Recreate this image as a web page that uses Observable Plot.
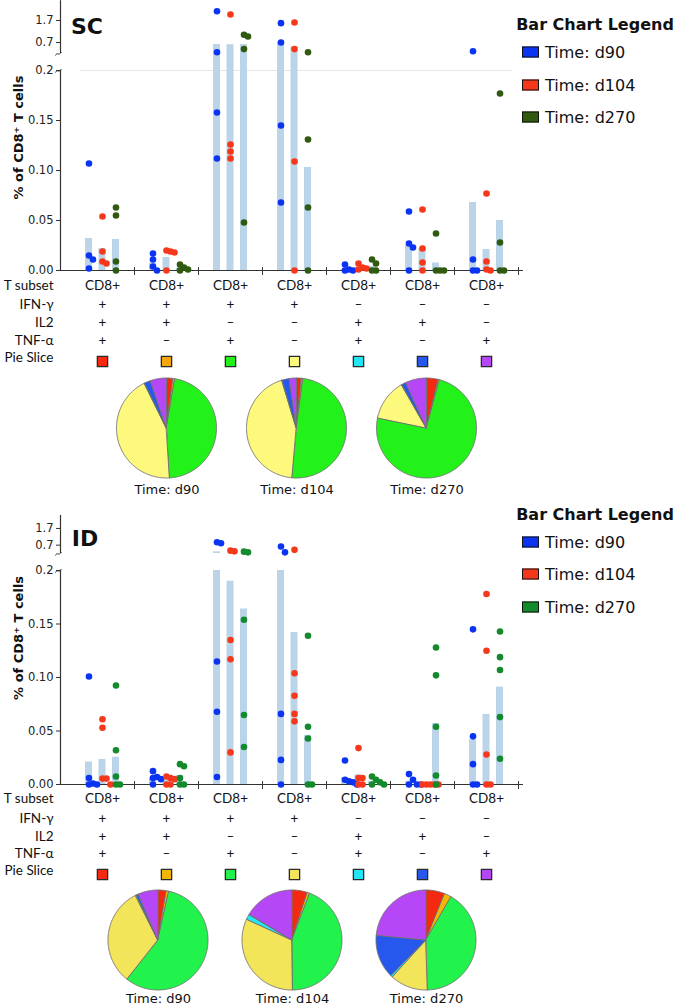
<!DOCTYPE html>
<html><head><meta charset="utf-8">
<script src="https://cdn.jsdelivr.net/npm/d3@7"></script>
<script src="https://cdn.jsdelivr.net/npm/@observablehq/plot@0.6"></script>
<style>
body{margin:0;background:#fff;}
#root{position:relative;width:677px;height:1008px;overflow:hidden;font-family:"DejaVu Sans",sans-serif;color:#111;}
.abs{position:absolute;}
.ctr{position:absolute;transform:translate(-50%,-50%);white-space:nowrap;}
.title{font-weight:bold;font-size:22px;}
.lgTitle{font-weight:bold;font-size:16px;}
.lgText{position:absolute;transform:translateY(-50%);font-size:16px;white-space:nowrap;}
.sw{position:absolute;width:15px;height:9px;border:1.3px solid #111;transform:translateY(-50%);}
</style></head><body><div id="root"></div>
<script>
// ---------- data ----------
const groupIdx = [0, 1, 2, 3, 4, 5, 6];
const times = ["d90", "d104", "d270"];
const tSubset = ["CD8+", "CD8+", "CD8+", "CD8+", "CD8+", "CD8+", "CD8+"];
const ifng = ["+", "+", "+", "+", "–", "–", "–"];
const il2  = ["+", "+", "–", "–", "+", "+", "–"];
const tnfa = ["+", "–", "+", "–", "+", "–", "+"];
const rowLabels = ["T subset", "IFN-γ", "IL2", "TNF-α", "Pie Slice"];
const yTickValues = [0, 0.05, 0.1, 0.15, 0.2, 0.7, 1.7];
const yTickLabels = ["0.00", "0.05", "0.10", "0.15", "0.2", "0.7", "1.7"];

// SC dots (per group)
const scD90 = [[0.107, 0.015, 0.011, 0.002], [0.017, 0.011, 0.004, 0], [2.12, 0.26, 0.158, 0.112], [1.58, 0.70, 0.145, 0.068], [0.006, 0.001, 0, 0], [0.059, 0.027, 0.023, 0], [0.30, 0.011, 0, 0]];
const scD104 = [[0.054, 0.019, 0.009, 0.007], [0.020, 0.019, 0.018, 0], [1.97, 0.126, 0.119, 0.112], [1.61, 0.40, 0.109, 0], [0.007, 0.003, 0.002, 0.001], [0.061, 0.022, 0.008, 0], [0.077, 0.009, 0.001, 0]];
const scD270 = [[0.063, 0.055, 0.009, 0], [0.006, 0.003, 0.001, 0], [1.05, 0.97, 0.40, 0.048], [0.26, 0.131, 0.063, 0], [0.011, 0.007, 0, 0], [0.037, 0, 0, 0], [0.177, 0.028, 0, 0]];
const scBarD90 = [0.032, 0.0075, 0.61, 0.71, 0.0015, 0.025, 0.068];
const scBarD104 = [0.022, 0.013, 0.60, 0.50, 0.003, 0.022, 0.021];
const scBarD270 = [0.031, 0.0025, 0.61, 0.103, 0.004, 0.0075, 0.050];

// ID dots (per group)
const idD90 = [[0.101, 0.006, 0.001, 0, 0], [0.0125, 0.007, 0.006, 0.005, 0], [0.87, 0.81, 0.115, 0.068, 0.007], [0.62, 0.27, 0.066, 0.023, 0], [0.0224, 0.0044, 0.003, 0.002, 0], [0.0097, 0.0044, 0, 0, 0], [0.145, 0.045, 0.019, 0, 0]];
const idD104 = [[0.061, 0.053, 0.0055, 0.0055, 0], [0.0075, 0.006, 0.005, 0, 0], [0.37, 0.33, 0.135, 0.117, 0.030], [0.42, 0.104, 0.083, 0.066, 0.059], [0.034, 0.006, 0.006, 0, 0], [0, 0, 0, 0, 0], [0.178, 0.125, 0.028, 0, 0]];
const idD270 = [[0.0925, 0.032, 0.0075, 0, 0], [0.019, 0.017, 0.006, 0, 0], [0.31, 0.27, 0.154, 0.065, 0.035], [0.139, 0.054, 0.043, 0, 0], [0.0075, 0.0045, 0.002, 0, 0], [0.128, 0.102, 0.054, 0.0084, 0], [0.143, 0.119, 0.107, 0.063, 0.024]];
const idBarD90 = [0.021, 0.006, 0.30, 0.21, 0.0064, 0.003, 0.042];
const idBarD104 = [0.0234, 0.004, 0.19, 0.142, 0.009, 0, 0.0654];
const idBarD270 = [0.0255, 0.0084, 0.164, 0.046, 0.003, 0.057, 0.091];

// pie slices (%), order: red, orange, green, yellow, cyan, blue, purple
const scPieD90 = [2.1, 0.6, 46.5, 43.5, 0.1, 2.0, 5.2];
const scPieD104 = [1.6, 0.5, 49.5, 43.7, 0.1, 2.3, 2.3];
const scPieD270 = [3.8, 0.4, 74.1, 13.4, 0.1, 1.4, 6.8];
const idPieD90 = [2.7, 0.8, 57.3, 31.8, 0.3, 0.7, 6.4];
const idPieD104 = [5.0, 0.8, 44.2, 31.9, 1.7, 0.1, 16.3];
const idPieD270 = [6.1, 2.3, 41.3, 12.2, 0.6, 14.1, 23.4];

// colours
const scTimeColors = ["#0a33f2", "#f5381c", "#2f5a10"];
const idTimeColors = ["#0a33f2", "#f5381c", "#138a2b"];
const scSliceColors = ["#f5290f", "#f4a60a", "#22f21a", "#fdf97c", "#22e6f5", "#2658ee", "#b647f7"];
const idSliceColors = ["#f5290f", "#f2b705", "#22f24c", "#f2e55a", "#22e6f5", "#2658ee", "#b647f7"];
const barColor = "#bbd4e8";

// ---------- drawing ----------
const root = document.getElementById("root");
function place(el, top) { el.classList.add("abs"); el.style.left = "0px"; el.style.top = top + "px"; root.appendChild(el); }
function html(cls, text, x, y) { const d = document.createElement("div"); d.className = cls; d.textContent = text; d.style.left = x + "px"; d.style.top = y + "px"; root.appendChild(d); return d; }

const breakSym = { draw(ctx) { ctx.moveTo(-5, 2); ctx.bezierCurveTo(-3.5, -2, -2, 3, 1, -1.5); } };

function makeChart(cfg) {
  const L = cfg.lowerPx, U = cfg.upperPx, G = cfg.gapPx;
  const tf = v => v <= 0.2 ? v : 0.2 + (G + (v - 0.2) * U) / L;
  const upperStart = 0.2 + G / L;
  const xmin = -0.656, xmax = 6.578;
  const off = [-0.211, 0, 0.211];
  const hw = 3.5 / 64;
  const segs = [];
  cfg.bars.forEach((arr, ti) => arr.forEach((v, g) => {
    const x = g + off[ti];
    if (cfg.continuous || v <= 0.2) segs.push({x1: x - hw, x2: x + hw, y1: 0, y2: tf(v)});
    else {
      segs.push({x1: x - hw, x2: x + hw, y1: 0, y2: 0.2});
      segs.push({x1: x - hw, x2: x + hw, y1: upperStart, y2: tf(v)});
    }
  }));
  const dots = [];
  cfg.dots.forEach((garr, ti) => garr.forEach((vals, g) => {
    const placed = [];
    vals.forEach(v => {
      const py = tf(v) * L;
      let k = 0;
      while (placed.some(p => p.k === k && Math.abs(p.py - py) < 6)) k++;
      placed.push({k, py});
      dots.push({x: g + off[ti] + k * 4 / 64, y: tf(v), fill: cfg.timeColors[ti]});
    });
  }));
  const tickTs = yTickValues.map(tf);
  const tickMap = new Map(tickTs.map((t, i) => [t, yTickLabels[i]]));
  const topT = tf(cfg.topV);
  const rows = [tSubset, ifng, il2, tnfa];
  const marks = [];
  if (cfg.grid) marks.push(Plot.ruleY([0.2], {x1: -0.35, x2: 6.4, stroke: "#e6e6e6"}));
  marks.push(
    Plot.rectY(segs, {x1: "x1", x2: "x2", y1: "y1", y2: "y2", fill: barColor}),
    Plot.ruleX([xmin], {y1: 0, y2: 0.2, stroke: "#333", strokeWidth: 1.2}),
    Plot.ruleX([xmin], {y1: upperStart, y2: topT, stroke: "#333", strokeWidth: 1.2}),
    Plot.dot([{x: xmin, y: 0.2}, {x: xmin, y: upperStart}], {x: "x", y: "y", symbol: breakSym, stroke: "#333", fill: "none", strokeWidth: 1}),
    Plot.ruleY([0], {x1: xmin, x2: xmax, stroke: "#333", strokeWidth: 1.2}),
    Plot.ruleX(groupIdx.map(g => g + 0.5), {y1: -5 / L, y2: 3 / L, stroke: "#333", strokeWidth: 1}),
    Plot.axisY({ticks: tickTs, tickFormat: d => tickMap.get(d), tickSize: 4, tickPadding: 3, fontSize: 11.5, label: null, stroke: "#333", color: "#222"}),
    Plot.dot(dots, {x: "x", y: "y", r: 3.3, fill: "fill"}),
    Plot.text([cfg.yLabel], {frameAnchor: "left", textAnchor: "middle", y: cfg.yLabelV, dx: -42, rotate: -90, fontWeight: "bold", fontSize: 13, fill: "#111"})
  );
  rows.forEach((row, r) => {
    marks.push(Plot.text(groupIdx, {x: g => g, text: g => row[g], frameAnchor: "bottom", dy: cfg.rowDy[r], fontSize: 13.5, fontFamily: "Lato", fill: "#111"}));
  });
  rowLabels.forEach((lab, r) => {
    marks.push(Plot.text([lab], {frameAnchor: "bottom-left", dx: -7, dy: cfg.rowDy[r], textAnchor: "end", fontSize: 13.5, fontFamily: "Lato", fill: "#111"}));
  });
  marks.push(Plot.dot(groupIdx, {x: g => g, frameAnchor: "bottom", dy: cfg.rowDy[4], symbol: "square", r: 5.8, fill: g => cfg.sliceColors[g], stroke: "#2a2a2a", strokeWidth: 1.3}));
  return Plot.plot({
    width: 677, height: cfg.height,
    marginLeft: 60, marginRight: 154,
    marginTop: cfg.zeroY - L * topT, marginBottom: cfg.height - cfg.zeroY,
    x: {domain: [xmin, xmax], axis: null},
    y: {domain: [0, topT]},
    color: {type: "identity"},
    style: {background: "none", fontFamily: "DejaVu Sans", overflow: "visible"},
    marks
  });
}

function makePies(cfg) {
  const R = 50;
  const pts = [], labels = [];
  cfg.pies.forEach((vals, i) => {
    const cx = i * cfg.spacing;
    const arcs = d3.pie().sort(null).value(d => d)(vals);
    arcs.forEach((a, s) => {
      const n = Math.max(2, Math.ceil((a.endAngle - a.startAngle) / (Math.PI / 180)));
      for (let j = 0; j <= n; j++) {
        const ang = a.startAngle + (a.endAngle - a.startAngle) * j / n;
        pts.push({key: i * 10 + s, cx, cy: 0, x: cx + Math.sin(ang), y: Math.cos(ang), fill: cfg.sliceColors[s]});
      }
    });
    labels.push({x: cx, text: "Time: " + times[i]});
  });
  return Plot.plot({
    width: 677, height: cfg.height, margin: 0,
    x: {domain: [-cfg.c0 / R, (677 - cfg.c0) / R], axis: null},
    y: {domain: [-(cfg.height - cfg.cy) / R, cfg.cy / R], axis: null},
    color: {type: "identity"},
    style: {background: "none", fontFamily: "DejaVu Sans", overflow: "visible"},
    marks: [
      Plot.area(pts, {x1: "cx", y1: "cy", x2: "x", y2: "y", z: "key", fill: "fill", stroke: "#707070", strokeWidth: 0.9, curve: "linear"}),
      Plot.text(labels, {x: "x", y: cfg.labelY, text: "text", fontSize: 13, fill: "#111"})
    ]
  });
}

function legend(cfg) {
  html("ctr lgTitle", "Bar Chart Legend", 595, cfg.titleY);
  times.forEach((t, i) => {
    const s = document.createElement("div");
    s.className = "sw"; s.style.left = "522px"; s.style.top = cfg.itemY[i] + "px"; s.style.background = cfg.colors[i];
    root.appendChild(s);
    const d = document.createElement("div");
    d.className = "lgText"; d.textContent = "Time: " + t; d.style.left = "545px"; d.style.top = cfg.itemY[i] + "px";
    root.appendChild(d);
  });
}

// SC panel
place(makeChart({lowerPx: 1000, upperPx: 22, gapPx: 17, topV: 2.6, zeroY: 270, height: 375, continuous: true, grid: true,
  bars: [scBarD90, scBarD104, scBarD270], dots: [scD90, scD104, scD270], timeColors: scTimeColors, sliceColors: scSliceColors,
  rowDy: [19, 38, 56, 74, 91], yLabel: "% of CD8⁺ T cells", yLabelV: 0.133}), 0);
place(makePies({pies: [scPieD90, scPieD104, scPieD270], sliceColors: scSliceColors, spacing: 2.6, c0: 166.5, cy: 56, height: 132, labelY: -1.22}), 372);
html("ctr title", "SC", 87, 26);
legend({titleY: 24, itemY: [52, 85, 117], colors: scTimeColors});

// ID panel
place(makeChart({lowerPx: 1070, upperPx: 16.7, gapPx: 17, topV: 2.48, zeroY: 284, height: 385, continuous: false, grid: false,
  bars: [idBarD90, idBarD104, idBarD270], dots: [idD90, idD104, idD270], timeColors: idTimeColors, sliceColors: idSliceColors,
  rowDy: [18, 38, 56, 73.5, 90], yLabel: "% of CD8⁺ T cells", yLabelV: 0.137}), 500);
place(makePies({pies: [idPieD90, idPieD104, idPieD270], sliceColors: idSliceColors, spacing: 2.68, c0: 158, cy: 55, height: 123, labelY: -1.17}), 885);
html("ctr title", "ID", 85, 538);
legend({titleY: 514, itemY: [542, 574, 607], colors: idTimeColors});
</script></body></html>
